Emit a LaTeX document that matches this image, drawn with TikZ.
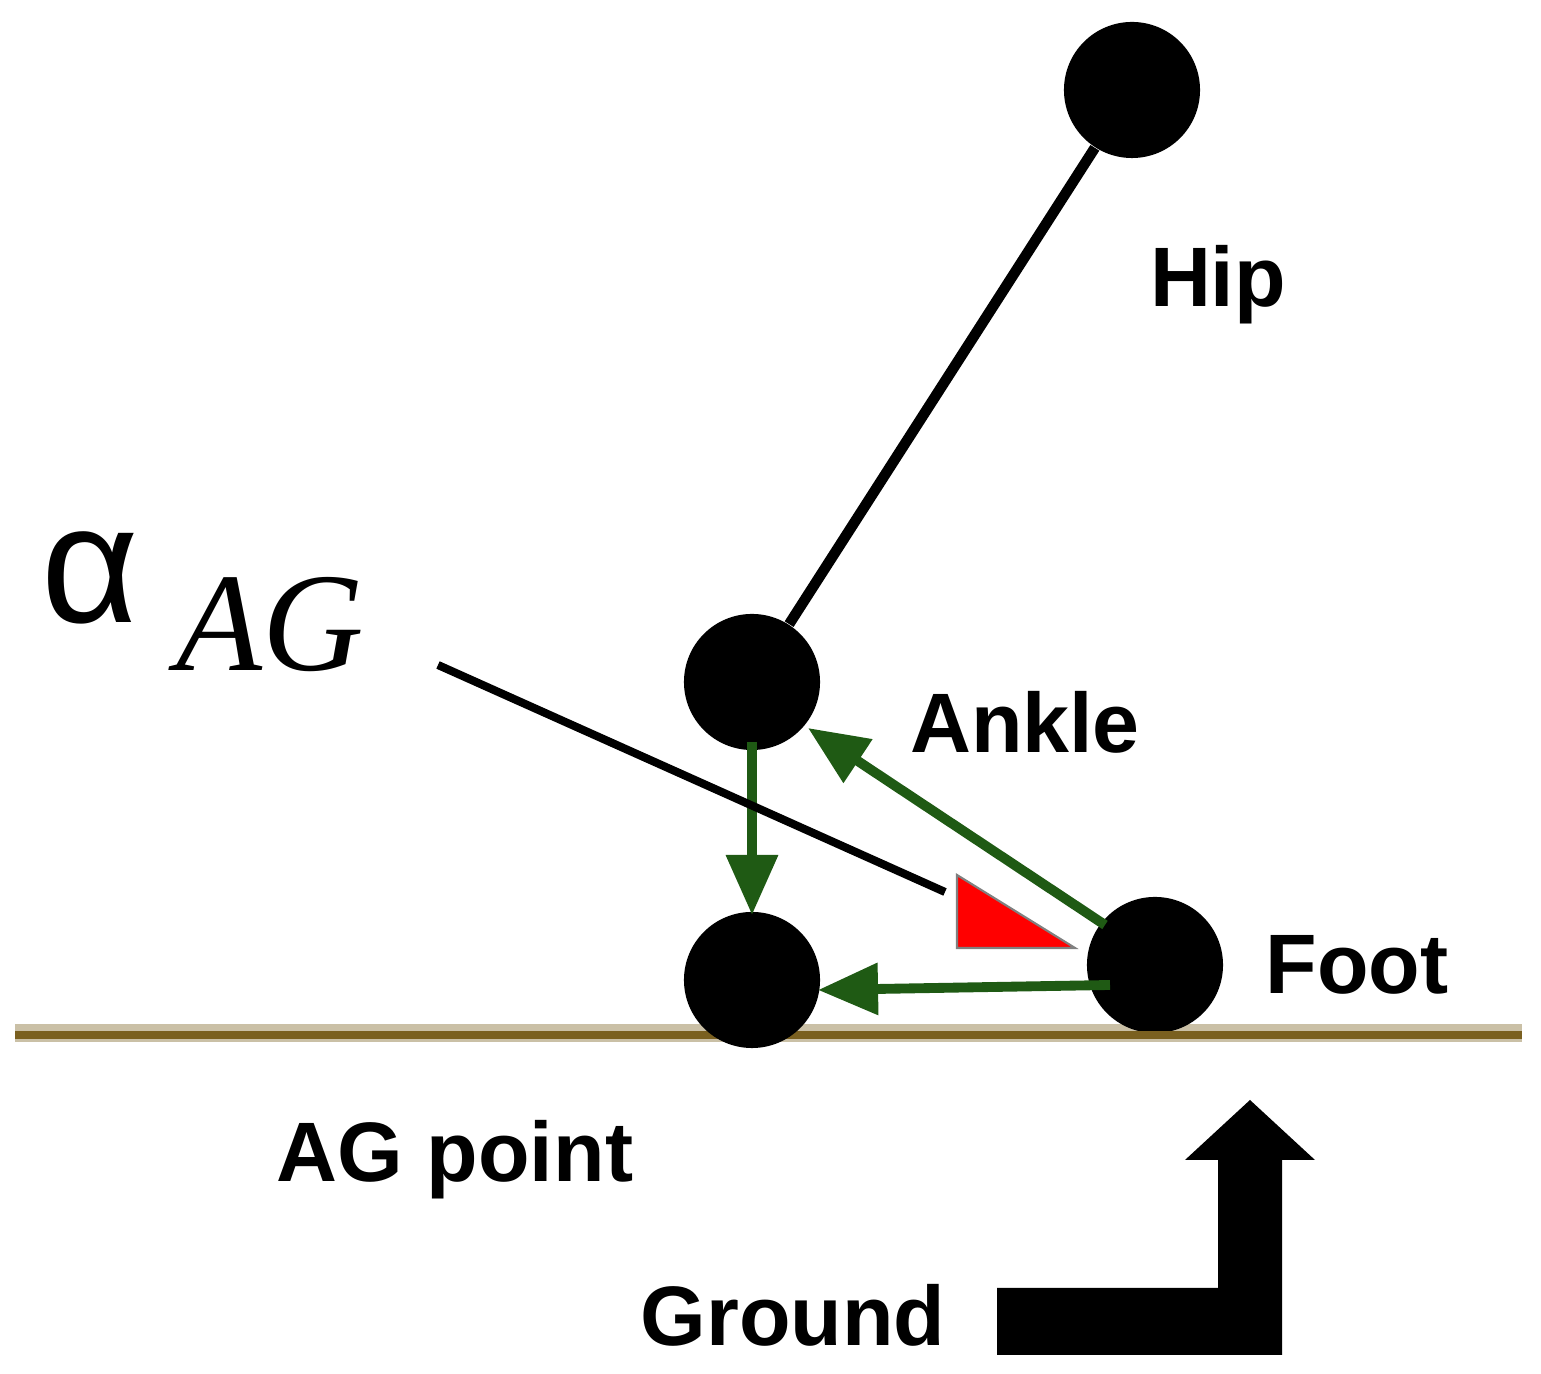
\documentclass[tikz,border=0pt]{standalone}
\usepackage{fontspec}
\setmainfont{Liberation Sans}
\newfontfamily\serifx{Liberation Serif}
\usetikzlibrary{arrows.meta}
\definecolor{gr}{HTML}{1F5A14}
\definecolor{gnd}{HTML}{7A6020}
\begin{document}
\begin{tikzpicture}[x=0.01cm,y=-0.01cm,
  joint/.style={circle,fill=black,minimum size=1.36cm,inner sep=0},
  lab/.style={font=\bfseries\fontsize{24}{28}\selectfont},
  garr/.style={gr,line width=2.8pt,-{Triangle[length=0.6cm,width=0.5cm]}}]
\useasboundingbox (0,0) rectangle (1541,1374);
\draw[gnd!40,line width=5pt] (15,1033) -- (1522,1033);
\draw[gnd,line width=2.5pt] (15,1035) -- (1522,1035);
\node[joint] (hip) at (1132,90) {};
\node[joint] (ankle) at (752,682) {};
\node[joint] (ag) at (752,980) {};
\begin{scope}
\clip (1000,850) rectangle (1300,1031);
\node[joint] (foot) at (1155,965) {};
\end{scope}
\draw[line width=3pt] (hip) -- (ankle);
\coordinate (a1) at (752,742);
\coordinate (a2) at (752,915);
\coordinate (f1) at (1105,925);
\coordinate (f2) at (808,728);
\coordinate (f3) at (1110,985);
\coordinate (f4) at (818,990);
\draw[garr] (a1) -- (a2);
\draw[garr] (f1) -- (f2);
\draw[garr] (f3) -- (f4);
\coordinate (l1) at (438,665);
\coordinate (l2) at (945,892);
\draw[line width=2.3pt] (l1) -- (l2);
\fill[red,draw=gray,line width=0.6pt] (957,875) -- (957,948) -- (1075,948) -- cycle;
\node[lab] (hipl) at (1218,285) {Hip};
\node[lab] (anklel) at (1025,722) {Ankle};
\node[lab] (footl) at (1357,965) {Foot};
\node[lab] (agl) at (455,1160) {AG point};
\node[lab] (gl) at (793,1315) {Ground};
\node[font=\fontsize{48}{52}\selectfont] (al) at (90,578) {α};
\node[font=\serifx\itshape\fontsize{40}{44}\selectfont] (agt) at (270,625) {AG};
\fill (997,1288) -- (1218,1288) -- (1218,1160) -- (1185,1160) -- (1250,1100) -- (1315,1160) -- (1282,1160) -- (1282,1355) -- (997,1355) -- cycle;
\end{tikzpicture}
\end{document}
